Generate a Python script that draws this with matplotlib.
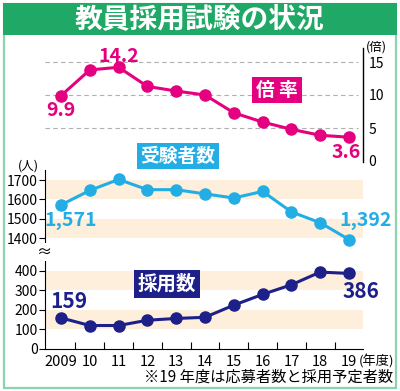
import matplotlib
matplotlib.use("Agg")
import matplotlib.pyplot as plt
from matplotlib.patches import Rectangle

plt.rcParams['font.family'] = ['Noto Sans CJK JP', 'DejaVu Sans']

# data
years = ["2009", "10", "11", "12", "13", "14", "15", "16", "17", "18", "19"]
ratio = [9.9, 13.8, 14.2, 11.3, 10.6, 10.0, 7.3, 5.9, 4.8, 3.9, 3.6]
applicants = [1571, 1646, 1703, 1650, 1650, 1628, 1607, 1641, 1535, 1479, 1392]
hires = [159, 120, 120, 147, 156, 162, 224, 279, 328, 393, 386]

MAGENTA = "#e4007f"
CYAN = "#22aee5"
NAVY = "#1d2088"
GREEN = "#1fa866"
FRAME = "#8dd3ad"
BAND = "#fdefdc"
W, H = 400, 391

fig = plt.figure(figsize=(W / 100, H / 100), dpi=100)


def px(x, y):
    return x / W, 1 - y / H


def add_ax(x0, y0, x1, y1):
    # pixel box (top-left / bottom-right) -> axes
    return fig.add_axes([x0 / W, 1 - y1 / H, (x1 - x0) / W, (y1 - y0) / H])


# year index 0 -> x=61px, 10 -> x=349px
step = (349 - 61) / 10
xlim = (-(61 - 45) / step, (363 - 61) / step)
xs = list(range(len(years)))


def ylim_for(v_a, y_a, v_b, y_b, top, bottom):
    k = (v_a - v_b) / (y_b - y_a)  # value per px
    return v_b - (bottom - y_b) * k, v_a + (y_a - top) * k


def label(x, y, s, color, size=14):
    fig.text(*px(x, y), s, color=color, fontsize=size, fontweight="bold", ha="center", va="center")


def tag(x, y, s, color, size):
    fig.text(*px(x, y), s, color="white", fontsize=size, fontweight="bold", ha="center", va="center",
             bbox=dict(boxstyle="square,pad=0.2", facecolor=color, edgecolor="none"))


# frame + title
fig.patches.append(Rectangle(px(4, 388), 392 / W, (388 - 4) / H, transform=fig.transFigure,
                             fill=False, edgecolor=FRAME, linewidth=1.6))
fig.patches.append(Rectangle(px(3, 35), 394 / W, 32 / H, transform=fig.transFigure,
                             facecolor=GREEN, edgecolor="none"))
fig.text(*px(199, 20), "教員採用試験の状況", color="white", fontsize=20, fontweight="bold",
         ha="center", va="center")

# ratio panel
ax1 = add_ax(45, 48, 363, 162)
ax1.set_xlim(*xlim)
ax1.set_ylim(*ylim_for(15, 62, 0, 161, 48, 162))
for v in [5, 10, 15]:
    ax1.axhline(v, xmin=0, xmax=0.985, color="#b0b0b0", lw=0.8, ls=(0, (4, 3)), zorder=1)
ax1.plot(xs, ratio, color=MAGENTA, lw=2.2, marker="o", ms=8, zorder=3)
for s in ["left", "top", "bottom"]:
    ax1.spines[s].set_visible(False)
ax1.spines["right"].set_linewidth(1.0)
ax1.yaxis.tick_right()
ax1.set_yticks([0, 5, 10, 15])
ax1.tick_params(axis="y", length=0, labelsize=10, pad=4)
ax1.set_xticks([])
ax1.patch.set_alpha(0)
fig.text(*px(376, 47), "(倍)", fontsize=9, ha="center", va="center")
label(61, 110, "9.9", MAGENTA)
label(119, 57, "14.2", MAGENTA)
label(346, 152, "3.6", MAGENTA)
tag(277, 90, "倍 率", MAGENTA, 13.5)

# applicants panel
ax2 = add_ax(45, 170, 363, 250)
ax2.set_xlim(*xlim)
ax2.set_ylim(*ylim_for(1700, 180, 1400, 238, 170, 250))
for lo in [1400, 1600]:
    ax2.axhspan(lo, lo + 100, color=BAND, lw=0, zorder=0)
ax2.plot(xs, applicants, color=CYAN, lw=2.2, marker="o", ms=8, zorder=3)
for s in ["right", "top", "bottom"]:
    ax2.spines[s].set_visible(False)
ax2.set_yticks([1400, 1500, 1600, 1700])
ax2.tick_params(axis="y", length=4, width=0.8, labelsize=10, pad=1)
ax2.set_xticks([])
ax2.patch.set_alpha(0)
fig.text(*px(28, 166), "(人)", fontsize=9, ha="center", va="center")
label(71, 221, "1,571", CYAN)
label(366, 220, "1,392", CYAN)
tag(178, 156, "受験者数", CYAN, 13.5)

# hires panel
ax3 = add_ax(45, 256, 363, 349)
ax3.set_xlim(*xlim)
ax3.set_ylim(*ylim_for(400, 270.7, 0, 349, 256, 349))
for lo in [100, 300]:
    ax3.axhspan(lo, lo + 100, color=BAND, lw=0, zorder=0)
ax3.plot(xs, hires, color=NAVY, lw=2.2, marker="o", ms=8, zorder=3)
for s in ["right", "top"]:
    ax3.spines[s].set_visible(False)
ax3.set_yticks([0, 100, 200, 300, 400])
ax3.tick_params(axis="y", length=4, width=0.8, labelsize=10, pad=1)
ax3.set_xticks(xs)
ax3.set_xticklabels(years)
ax3.set_xticks([i + 0.5 for i in xs[:-1]], minor=True)
ax3.tick_params(axis="x", which="major", length=0, labelsize=10.5, pad=4)
ax3.tick_params(axis="x", which="minor", direction="in", length=5, width=0.8)
ax3.patch.set_alpha(0)
fig.text(*px(358.5, 361), "(年度)", fontsize=9.5, ha="left", va="center")
label(69, 301, "159", NAVY, 15)
label(361, 292, "386", NAVY, 15)
tag(167, 284, "採用数", NAVY, 14)

# axis break mark
fig.text(*px(44, 252), "≈", fontsize=11, ha="center", va="center",
         bbox=dict(boxstyle="square,pad=0.05", facecolor="white", edgecolor="none"))

fig.text(*px(393, 377), "※19 年度は応募者数と採用予定者数", fontsize=11, ha="right", va="center")

fig.savefig("out.png", dpi=100)
